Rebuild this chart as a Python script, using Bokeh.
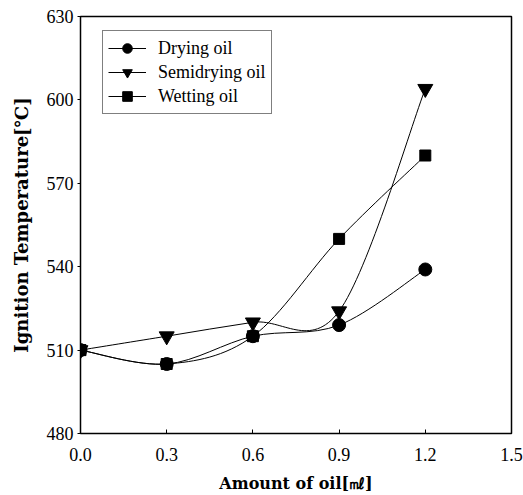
from bokeh.plotting import figure
from bokeh.models import ColumnDataSource, Legend, LegendItem, FixedTicker, Range1d, PrintfTickFormatter
from bokeh.embed import file_html
from bokeh.resources import INLINE

amount = [0.0, 0.3, 0.6, 0.9, 1.2]
drying = [510, 505, 515, 519, 539]
semidrying = [510, 515, 520, 524, 604]
wetting = [510, 505, 515, 550, 580]
x_ticks = [0.0, 0.3, 0.6, 0.9, 1.2, 1.5]
y_ticks = [480, 510, 540, 570, 600, 630]

FONT = "Liberation Serif"

p = figure(width=523, height=495, output_backend="svg", toolbar_location=None,
           x_range=Range1d(0, 1.5), y_range=Range1d(480, 630),
           min_border_left=80, min_border_right=12, min_border_top=16, min_border_bottom=61)
p.xgrid.visible = False
p.ygrid.visible = False
p.outline_line_color = "black"
p.outline_line_width = 1.5
p.background_fill_color = "white"
p.border_fill_color = "white"


def bezier_source(xs, ys):
    n = len(xs)
    x0, y0, x1, y1, cx0, cy0, cx1, cy1 = [], [], [], [], [], [], [], []
    for i in range(n - 1):
        im = max(i - 1, 0)
        ip = min(i + 2, n - 1)
        x0.append(xs[i]); y0.append(ys[i])
        x1.append(xs[i + 1]); y1.append(ys[i + 1])
        cx0.append(xs[i] + (xs[i + 1] - xs[im]) / 6.0)
        cy0.append(ys[i] + (ys[i + 1] - ys[im]) / 6.0)
        cx1.append(xs[i + 1] - (xs[ip] - xs[i]) / 6.0)
        cy1.append(ys[i + 1] - (ys[ip] - ys[i]) / 6.0)
    return ColumnDataSource(dict(x0=x0, y0=y0, x1=x1, y1=y1, cx0=cx0, cy0=cy0, cx1=cx1, cy1=cy1))


series = [
    ("Drying oil", drying, "circle", 13),
    ("Semidrying oil", semidrying, "inverted_triangle", 15),
    ("Wetting oil", wetting, "square", 11),
]

nan = float("nan")
items = []
for name, ys, marker, size in series:
    p.bezier(x0="x0", y0="y0", x1="x1", y1="y1", cx0="cx0", cy0="cy0", cx1="cx1", cy1="cy1",
             source=bezier_source(amount, ys), line_color="black", line_width=1)
    ln = p.line(x=[nan, nan], y=[nan, nan], line_color="black", line_width=1)
    sc = p.scatter(amount, ys, marker=marker, size=size, fill_color="black", line_color="black")
    items.append(LegendItem(label=name, renderers=[ln, sc]))

legend = Legend(items=items, location=(22, 319),
                label_text_font=FONT, label_text_font_size="18px", label_text_color="black",
                border_line_color="black", border_line_width=1,
                glyph_width=38, glyph_height=24, label_height=20, spacing=0,
                padding=5, label_standoff=12, background_fill_alpha=1)
p.add_layout(legend)

p.xaxis.ticker = FixedTicker(ticks=x_ticks)
p.yaxis.ticker = FixedTicker(ticks=y_ticks)
p.xaxis.formatter = PrintfTickFormatter(format="%.1f")

for ax in (p.xaxis, p.yaxis):
    ax.axis_line_color = None
    ax.major_tick_line_color = "black"
    ax.minor_tick_line_color = None
    ax.major_label_text_font = FONT
    ax.major_label_text_font_size = "18px"
    ax.major_label_text_color = "black"
    ax.axis_label_text_font = "DejaVu Serif"
    ax.axis_label_text_font_style = "bold"
    ax.axis_label_text_color = "black"

p.xaxis.axis_label_text_font_size = "16px"
p.yaxis.axis_label_text_font_size = "18px"

p.xaxis.major_tick_in = 4
p.xaxis.major_tick_out = 0
p.yaxis.major_tick_in = 0
p.yaxis.major_tick_out = 3
p.xaxis.major_label_standoff = 14
p.yaxis.major_label_standoff = 4
p.xaxis.axis_label = "Amount of oil[㎖]"
p.yaxis.axis_label = "Ignition Temperature[℃]"
p.xaxis.axis_label_standoff = 10
p.yaxis.axis_label_standoff = 12

open("out.html", "w").write(file_html(p, INLINE))
